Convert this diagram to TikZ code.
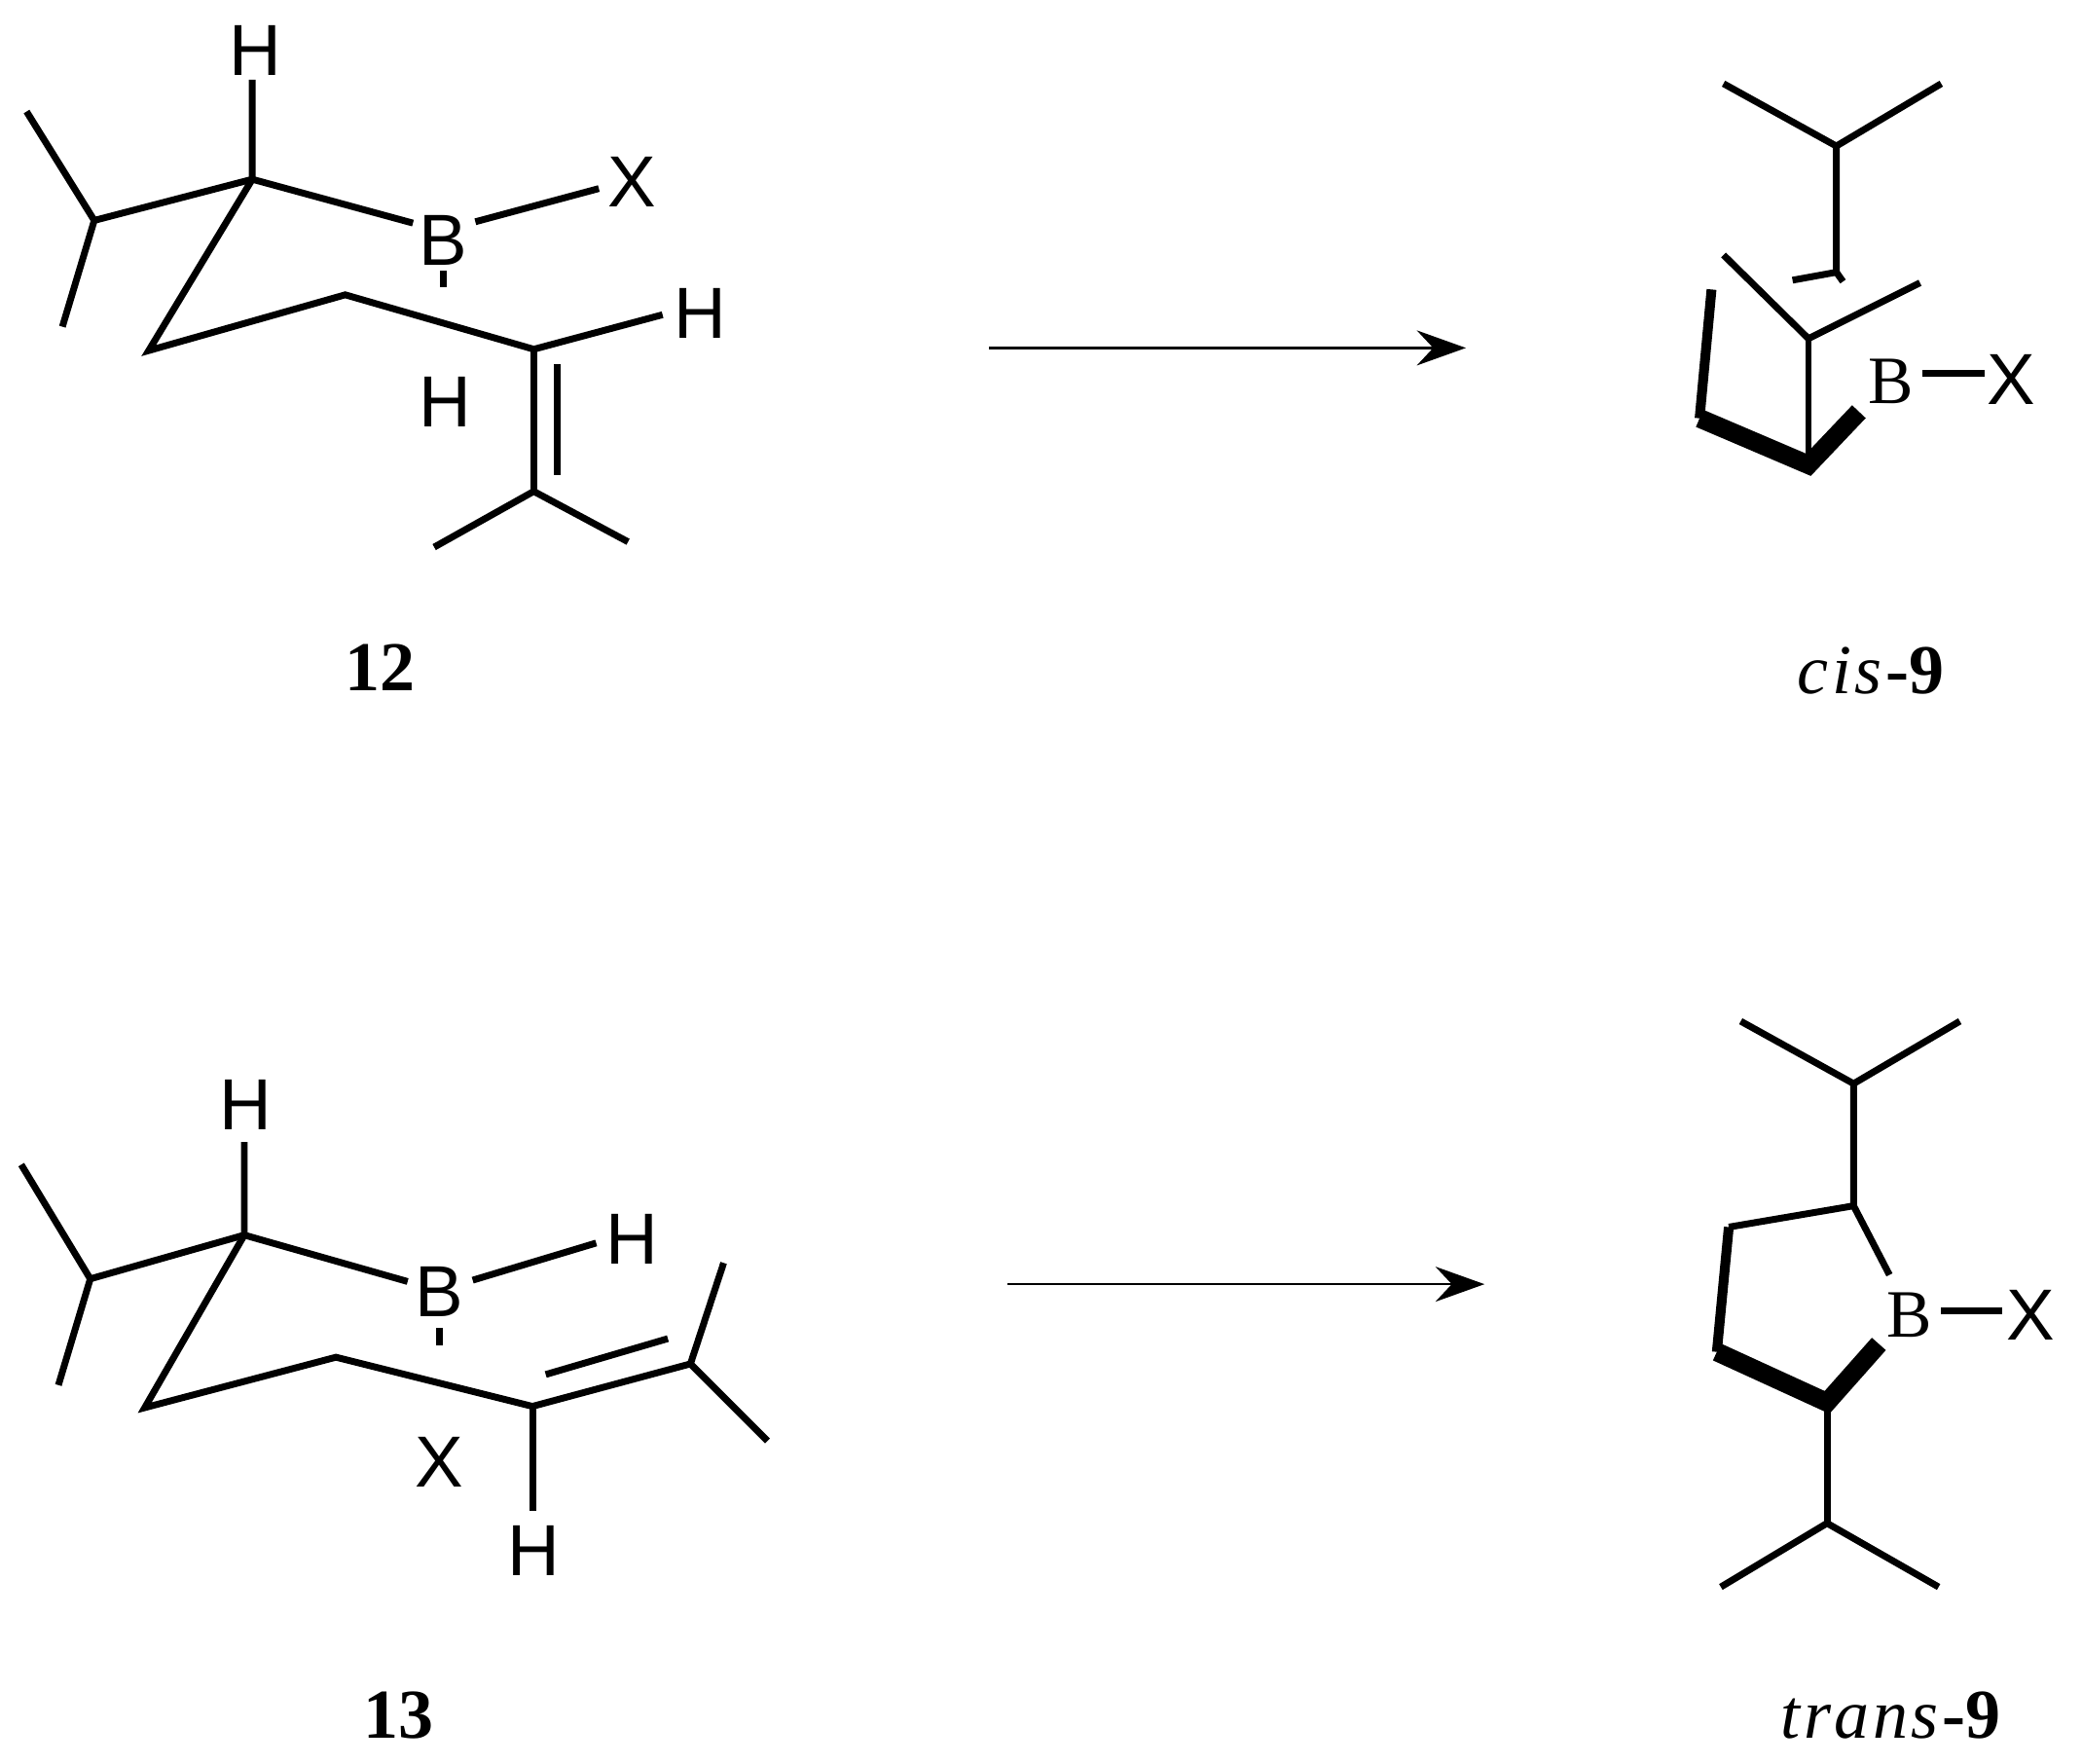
\documentclass[tikz,border=0pt]{standalone}
\usepackage{fontspec}
\setmainfont{Liberation Serif}
\newfontfamily\atomfont{Liberation Sans}
\usetikzlibrary{arrows.meta}

\tikzstyle{atom}=[inner sep=0pt,font=\atomfont\fontsize{15.5}{15.5}\selectfont]
\tikzstyle{atomserif}=[inner sep=0pt,font=\fontsize{14.5}{14.5}\selectfont]
\tikzstyle{compound}=[inner sep=0pt,font=\fontsize{15}{15}\selectfont]
\tikzstyle{bond}=[draw,line width=1.45pt,line join=miter]
\tikzstyle{midbond}=[draw,line width=2.1pt]
\tikzstyle{boldbond}=[draw,line width=4pt]
\tikzstyle{reaction}=[draw,line width=0.5pt,-{Stealth[length=10.5pt,width=7.5pt,inset=3.5pt]}]

\newcommand{\spaced}[1]{{\addfontfeature{LetterSpace=5}\textit{#1}}}

\begin{document}
\begin{tikzpicture}[x=0.01cm, y=-0.01cm]
	\useasboundingbox (0,0) rectangle (1568,1328);

	% compound 12
	\coordinate (a1)  at (20,84);
	\coordinate (a2)  at (71,166);
	\coordinate (a3)  at (47,246);
	\coordinate (a4)  at (190,135);
	\coordinate (a5)  at (190,60);
	\coordinate (a6)  at (311,168);
	\coordinate (a7)  at (358,167);
	\coordinate (a8)  at (451,142);
	\coordinate (a9)  at (334,204);
	\coordinate (a10) at (334,216);
	\coordinate (a11) at (112,264);
	\coordinate (a12) at (260,222);
	\coordinate (a13) at (402,263);
	\coordinate (a14) at (499,237);
	\coordinate (a15) at (402,370);
	\coordinate (a16) at (420,274);
	\coordinate (a17) at (420,358);
	\coordinate (a18) at (327,412);
	\coordinate (a19) at (473,408);
	\node [atom] (aH1) at (192,38)  {H};
	\node [atom] (aB)  at (334,181) {B};
	\node [atom] (aX)  at (476,137) {X};
	\node [atom] (aH2) at (527,236) {H};
	\node [atom] (aH3) at (335,303) {H};
	\node [compound] (name12) at (286,503) {\textbf{12}};

	\draw [bond] (a1) -- (a2) -- (a3);
	\draw [bond] (a2) -- (a4) -- (a5);
	\draw [bond] (a4) -- (a6);
	\draw [bond] (a7) -- (a8);
	\draw [bond] (a9) -- (a10);
	\draw [bond] (a4) -- (a11) -- (a12) -- (a13) -- (a14);
	\draw [bond] (a13) -- (a15);
	\draw [bond] (a16) -- (a17);
	\draw [bond] (a18) -- (a15) -- (a19);

	% compound 13
	\coordinate (b1)  at (16,877);
	\coordinate (b2)  at (68,963);
	\coordinate (b3)  at (44,1043);
	\coordinate (b4)  at (184,930);
	\coordinate (b5)  at (184,860);
	\coordinate (b6)  at (307,965);
	\coordinate (b7)  at (356,964);
	\coordinate (b8)  at (449,936);
	\coordinate (b9)  at (331,1000);
	\coordinate (b10) at (331,1013);
	\coordinate (b11) at (109,1060);
	\coordinate (b12) at (253,1022);
	\coordinate (b13) at (401,1059);
	\coordinate (b14) at (520,1027);
	\coordinate (b15) at (411,1035);
	\coordinate (b16) at (503,1008);
	\coordinate (b17) at (545,951);
	\coordinate (b18) at (578,1085);
	\coordinate (b19) at (401,1138);
	\node [atom] (bH1) at (185,832)  {H};
	\node [atom] (bB)  at (331,973)  {B};
	\node [atom] (bH2) at (476,933)  {H};
	\node [atom] (bX)  at (331,1101) {X};
	\node [atom] (bH3) at (402,1168) {H};
	\node [compound] (name13) at (300,1292) {\textbf{13}};

	\draw [bond] (b1) -- (b2) -- (b3);
	\draw [bond] (b2) -- (b4) -- (b5);
	\draw [bond] (b4) -- (b6);
	\draw [bond] (b7) -- (b8);
	\draw [bond] (b9) -- (b10);
	\draw [bond] (b4) -- (b11) -- (b12) -- (b13) -- (b14);
	\draw [bond] (b15) -- (b16);
	\draw [bond] (b17) -- (b14) -- (b18);
	\draw [bond] (b13) -- (b19);

	% cis-9
	\coordinate (c1)  at (1298,63);
	\coordinate (c2)  at (1383,110);
	\coordinate (c3)  at (1462,63);
	\coordinate (c4)  at (1383,205);
	\coordinate (c5)  at (1350,211);
	\coordinate (c6)  at (1388,212);
	\coordinate (c7)  at (1298,192);
	\coordinate (c8)  at (1362,255);
	\coordinate (c9)  at (1446,213);
	\coordinate (c10) at (1362,345);
	\coordinate (c11) at (1289,218);
	\coordinate (c12) at (1280,315);
	\coordinate (c13) at (1362,350);
	\coordinate (c14) at (1400,310);
	\coordinate (c15) at (1448,281);
	\coordinate (c16) at (1495,281);
	\node [atomserif] (cB) at (1424,287) {B};
	\node [atom]      (cX) at (1515,286) {X};
	\node [compound] (namecis) at (1409,505) {\spaced{cis}\textbf{-9}};

	\draw [bond] (c1) -- (c2) -- (c3);
	\draw [bond] (c2) -- (c4) -- (c5);
	\draw [bond] (c4) -- (c6);
	\draw [bond] (c7) -- (c8) -- (c9);
	\draw [bond] (c8) -- (c10);
	\draw [midbond] (c11) -- (c12);
	\draw [boldbond] (c12) -- (c13) -- (c14);
	\draw [bond] (c15) -- (c16);

	% trans-9
	\coordinate (d1)  at (1311,769);
	\coordinate (d2)  at (1396,816);
	\coordinate (d3)  at (1476,769);
	\coordinate (d4)  at (1396,908);
	\coordinate (d5)  at (1302,924);
	\coordinate (d6)  at (1293,1018);
	\coordinate (d7)  at (1376,1056);
	\coordinate (d8)  at (1415,1012);
	\coordinate (d9)  at (1423,960);
	\coordinate (d10) at (1376,1147);
	\coordinate (d11) at (1296,1195);
	\coordinate (d12) at (1460,1195);
	\coordinate (d13) at (1462,987);
	\coordinate (d14) at (1508,987);
	\node [atomserif] (dB) at (1438,990) {B};
	\node [atom]      (dX) at (1529,990) {X};
	\node [compound] (nametrans) at (1424,1292) {\spaced{trans}\textbf{-9}};

	\draw [bond] (d1) -- (d2) -- (d3);
	\draw [bond] (d2) -- (d4) -- (d5);
	\draw [midbond] (d5) -- (d6);
	\draw [boldbond] (d6) -- (d7) -- (d8);
	\draw [bond] (d4) -- (d9);
	\draw [bond] (d7) -- (d10);
	\draw [bond] (d11) -- (d10) -- (d12);
	\draw [bond] (d13) -- (d14);

	% arrows
	\coordinate (r1) at (745,262);
	\coordinate (r2) at (1104,262);
	\coordinate (r3) at (759,967);
	\coordinate (r4) at (1118,967);
	\draw [reaction] (r1) -- (r2);
	\draw [reaction] (r3) -- (r4);
\end{tikzpicture}
\end{document}
